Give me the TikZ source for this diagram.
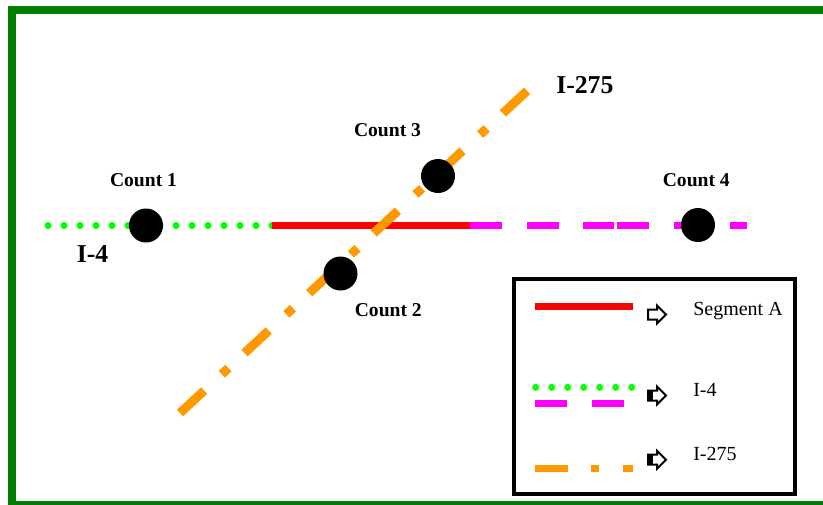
\documentclass[tikz,border=0pt]{standalone}
\usepackage{fontspec}
\setmainfont{Liberation Serif}
\definecolor{framegreen}{RGB}{0,128,0}
\definecolor{dotgreen}{RGB}{0,255,0}
\definecolor{roadred}{RGB}{255,0,0}
\definecolor{roadmag}{RGB}{255,0,255}
\definecolor{roadorange}{RGB}{255,153,0}
\tikzset{
  frameline/.style={draw=framegreen, line width=6pt},
  segred/.style={draw=roadred, line width=5.25pt},
  greendots/.style={draw=dotgreen, line width=5.25pt, line cap=round, dash pattern=on 0pt off 12pt},
  magdash/.style={draw=roadmag, line width=5.25pt, dash pattern=on 24pt off 18.375pt},
  orangedash/.style={draw=roadorange, line width=6.75pt, dash pattern=on 24.75pt off 18pt on 6.75pt off 16.575pt},
  countdot/.style={circle, fill=black, inner sep=0pt, minimum size=25.5pt},
  countlbl/.style={anchor=base, inner sep=0pt, font=\fontsize{14.7}{17}\selectfont\bfseries},
  roadlbl/.style={anchor=base, inner sep=0pt, font=\fontsize{19.3}{22}\selectfont\bfseries},
  leglbl/.style={anchor=base west, inner sep=0pt, font=\fontsize{15}{18}\selectfont},
  legbox/.style={draw=black, line width=3pt},
  legarrow/.pic={
    \draw[black, fill=white, line width=1.5pt, line join=miter]
      (0,-5) -- (9,-5) -- (9,-9) -- (18,0) -- (9,9) -- (9,5) -- (0,5) -- cycle;
  },
  legarrowb/.pic={
    \draw[black, fill=white, line width=1.5pt, line join=miter]
      (0,-5) -- (9,-5) -- (9,-9) -- (18,0) -- (9,9) -- (9,5) -- (0,5) -- cycle;
    \fill[black] (0,-5) rectangle (5,5);
  }
}
\begin{document}
\begin{tikzpicture}[x=0.75pt, y=-0.75pt]
\useasboundingbox (0,0) rectangle (823,504);
\clip (0,0) rectangle (823,504);
\fill[white] (0,0) rectangle (823,504);
% green frame
\draw[frameline] (12,10) rectangle (830,505);

% coordinates of the roads
\coordinate (g0) at (48,225.5);
\coordinate (g1) at (272.5,225.5);
\coordinate (r0) at (272,225.5);
\coordinate (r1) at (470,225.5);
\coordinate (m0) at (470,225.5);
\coordinate (m1) at (614,225.5);
\coordinate (m2) at (617,225.5);
\coordinate (m3) at (747,225.5);
\coordinate (o0) at (180,413);
\coordinate (o1) at (528,90);

% I-4 (green dots, magenta dashes) and segment A (red)
\draw[greendots] (g0) -- (g1);
\draw[segred] (r0) -- (r1);
\draw[magdash] (m0) -- (m1);
\draw[magdash] (m2) -- (m3);
% I-275
\draw[orangedash] (o0) -- (o1);

% count stations
\node[countdot] (c1) at (146,225.5) {};
\node[countdot] (c2) at (340.5,273.5) {};
\node[countdot] (c3) at (438,176) {};
\node[countdot] (c4) at (698,225) {};

% labels
\node[countlbl] (l1) at (143.5,186) {Count 1};
\node[countlbl] (l2) at (388.3,316.5) {Count 2};
\node[countlbl] (l3) at (387.5,136) {Count 3};
\node[countlbl] (l4) at (696.3,186.5) {Count 4};
\node[roadlbl] (li4) at (92.5,262) {I-4};
\node[roadlbl, anchor=base west] (li275) at (556,93) {I-275};

% legend
\draw[legbox] (514,279) rectangle (795,494);
\coordinate (la0) at (535,306);
\coordinate (la1) at (633,306);
\draw[segred] (la0) -- (la1);
\coordinate (lb0) at (535.7,387.3);
\coordinate (lb1) at (632,387.3);
\draw[greendots] (lb0) -- (lb1);
\coordinate (lc0) at (535.3,403.7);
\coordinate (lc1) at (623.7,403.7);
\draw[magdash] (lc0) -- (lc1);
\coordinate (ld0) at (535.3,468.7);
\coordinate (ld1) at (633,468.7);
\draw[draw=roadorange, line width=5.25pt, dash pattern=on 24.3pt off 17.7pt on 6pt off 18pt] (ld0) -- (ld1);

\pic at (648,314.5) {legarrow};
\pic at (648,395.5) {legarrowb};
\pic at (648,459.7) {legarrowb};

\node[leglbl] (ta) at (693,315) {Segment A};
\node[leglbl] (tb) at (693,396) {I-4};
\node[leglbl] (tc) at (693,460) {I-275};
\end{tikzpicture}
\end{document}
